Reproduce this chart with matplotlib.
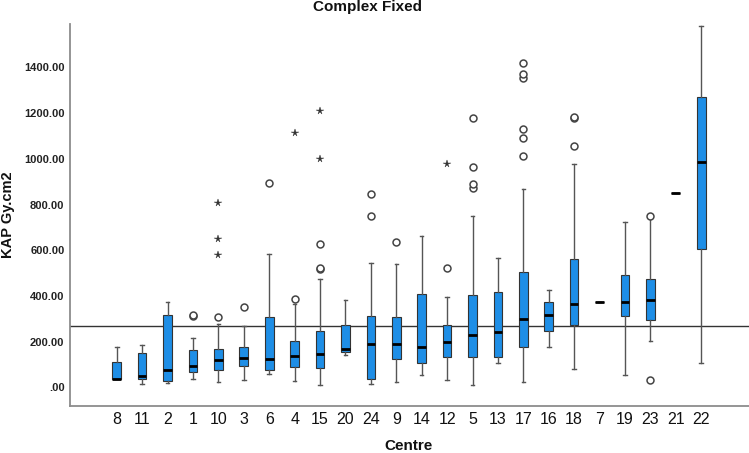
import numpy as np
import matplotlib
matplotlib.use("Agg")
import matplotlib.pyplot as plt

# --- data (KAP, Gy.cm2) ---
centres = ["8", "11", "2", "1", "10", "3", "6", "4", "15", "20", "24", "9",
           "14", "12", "5", "13", "17", "16", "18", "7", "19", "23", "21", "22"]
whislo = [36, 17, 20, 39, 25, 32, 58, 29, 9, 144, 16, 25,
          55, 33, 9, 109, 22, 179, 81, 374, 55, 205, 850, 107]
q1     = [36, 36, 27, 68, 77, 92, 77, 90, 83, 156, 36, 124,
          109, 135, 135, 131, 177, 246, 272, 374, 314, 297, 850, 604]
med    = [38, 49, 78, 94, 122, 129, 125, 137, 147, 166, 190, 188,
          177, 199, 231, 241, 300, 317, 364, 374, 374, 384, 850, 988]
q3     = [110, 151, 319, 163, 167, 177, 308, 202, 249, 275, 311, 308,
          407, 273, 405, 419, 507, 373, 562, 374, 493, 476, 850, 1269]
whishi = [177, 185, 374, 218, 279, 269, 582, 364, 473, 381, 544, 541,
          664, 394, 751, 565, 869, 428, 978, 374, 722, 748, 850, 1583]

# outliers (circles) and extremes (stars) per centre
circles = [[], [], [], [314, 316], [310], [352], [894], [386], [517, 523, 629], [], [748, 845], [638],
           [], [524], [872, 892, 966, 1180], [], [1011, 1093, 1129, 1354, 1373, 1418], [], [1057, 1177, 1183], [], [], [31, 752], [], []]
stars = [[], [], [], [], [581, 648, 806], [], [], [1112], [998, 1210], [], [], [],
         [], [979], [], [], [], [], [], [], [], [], [], []]

ref_line = 270
yticks = [0, 200, 400, 600, 800, 1000, 1200, 1400]

BLUE = "#1E8EE6"
EDGE = "#333333"
WHISK = "#555555"
SPINE = "#8C8C8C"

plt.rcParams["font.family"] = ["Liberation Sans", "DejaVu Sans"]

fig = plt.figure(figsize=(7.49, 4.53), dpi=100)
ax = fig.add_axes([70 / 749, 47.3 / 453, 679 / 749, 381.7 / 453])

pos = np.arange(len(centres))
stats = [dict(med=med[i], q1=q1[i], q3=q3[i], whislo=whislo[i], whishi=whishi[i], fliers=[])
         for i in range(len(centres))]

ax.bxp(stats, positions=pos, widths=0.34, capwidths=0.14, showfliers=False,
       patch_artist=True,
       boxprops=dict(facecolor=BLUE, edgecolor=EDGE, linewidth=0.8),
       medianprops=dict(color="black", linewidth=2.0, solid_capstyle="butt"),
       whiskerprops=dict(color=WHISK, linewidth=1.0),
       capprops=dict(color=WHISK, linewidth=1.0),
       zorder=3)

for i in pos:
    if circles[i]:
        ax.plot([i] * len(circles[i]), circles[i], linestyle="none", marker="o",
                markersize=5, markerfacecolor="white", markeredgecolor="#444444",
                markeredgewidth=1.1, zorder=4)
    if stars[i]:
        ax.plot([i] * len(stars[i]), stars[i], linestyle="none", marker="*",
                markersize=5.5, color="#333333", markeredgewidth=0.3, zorder=4)

ax.axhline(ref_line, color="#333333", linewidth=1.0, zorder=2)

ax.set_xlim(-1.84, 24.88)
ax.set_ylim(-80, 1590)
ax.set_xticks(pos)
ax.set_xticklabels(centres, fontsize=11.5)
ax.set_yticks(yticks)
ax.set_yticklabels([f"{v:.2f}" if v else ".00" for v in yticks],
                   fontsize=8, fontweight="bold")
ax.tick_params(axis="x", length=0, pad=4.5, colors="#111111")
ax.tick_params(axis="y", length=0, pad=4, colors="#222222")

for s in ["top", "right"]:
    ax.spines[s].set_visible(False)
for s in ["left", "bottom"]:
    ax.spines[s].set_color(SPINE)
    ax.spines[s].set_linewidth(1.3)

fig.text(0.491, 0.984, "Complex Fixed", ha="center", va="center",
         fontsize=11, fontweight="bold", color="#111111")
fig.text(0.545, 0.016, "Centre", ha="center", va="center",
         fontsize=11, fontweight="bold", color="#111111")
fig.text(0.011, 0.525, "KAP Gy.cm2", ha="center", va="center", rotation=90,
         fontsize=10.5, fontweight="bold", color="#111111")

fig.savefig("out.png", dpi=100, facecolor="white")
